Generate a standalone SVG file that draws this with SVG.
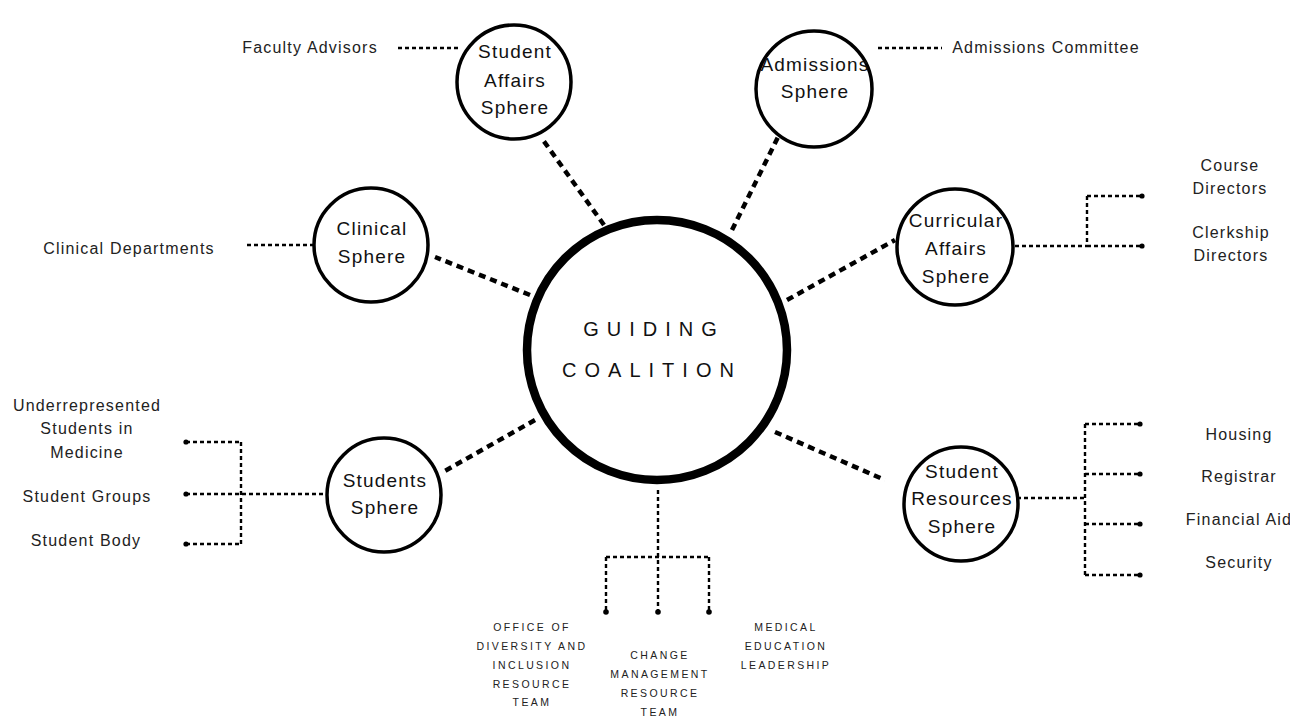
<svg xmlns="http://www.w3.org/2000/svg" width="1290" height="717" viewBox="0 0 1290 717">
  <style>
    .bg { fill: #ffffff; }
    .hub { fill: #ffffff; stroke: #000; stroke-width: 8.5; }
    .sphere { fill: #ffffff; stroke: #000; stroke-width: 3.5; }
    .spoke { fill: none; stroke: #000; stroke-width: 4.5; stroke-dasharray: 7 5; }
    .link { fill: none; stroke: #000; stroke-width: 2.4; stroke-dasharray: 4 3; }
    .dot { fill: #000; }
    .hubtext { font-family: "Liberation Sans", Arial, sans-serif; font-size: 20px; letter-spacing: 8px; fill: #111; text-anchor: middle; }
    .label { font-family: "Liberation Sans", Arial, sans-serif; font-size: 19px; letter-spacing: 1.2px; fill: #111; text-anchor: middle; }
    .leaf { font-family: "Liberation Sans", Arial, sans-serif; font-size: 16px; letter-spacing: 1.2px; fill: #222; text-anchor: middle; }
    .caps { font-family: "Liberation Sans", Arial, sans-serif; font-size: 10.5px; letter-spacing: 2.4px; fill: #222; text-anchor: middle; }
  </style>
  <rect class="bg" x="0" y="0" width="1290" height="717"/>

  <!-- connectors -->
  <g id="connectors">
    <!-- hub to spheres -->
    <line class="spoke" x1="604" y1="225" x2="543" y2="140"/>
    <line class="spoke" x1="732" y1="230" x2="780" y2="133"/>
    <line class="spoke" x1="530" y1="295" x2="435" y2="257"/>
    <line class="spoke" x1="787" y1="300" x2="895" y2="240"/>
    <line class="spoke" x1="535" y1="420" x2="443" y2="472"/>
    <line class="spoke" x1="775" y1="432" x2="885" y2="480"/>

    <!-- sphere to leaves -->
    <line class="link" x1="398" y1="48" x2="460" y2="48"/>
    <line class="link" x1="878" y1="48" x2="942" y2="48"/>
    <line class="link" x1="247" y1="245" x2="313" y2="245"/>

    <!-- curricular bracket -->
    <line class="link" x1="1015" y1="246" x2="1087" y2="246"/>
    <line class="link" x1="1087" y1="196" x2="1087" y2="246"/>
    <line class="link" x1="1087" y1="196" x2="1141" y2="196"/>
    <line class="link" x1="1087" y1="246" x2="1141" y2="246"/>
    <circle class="dot" cx="1142" cy="196" r="2.6"/>
    <circle class="dot" cx="1142" cy="246" r="2.6"/>

    <!-- students bracket -->
    <line class="link" x1="242" y1="494" x2="325" y2="494"/>
    <line class="link" x1="241" y1="442" x2="241" y2="544"/>
    <line class="link" x1="186" y1="442" x2="241" y2="442"/>
    <line class="link" x1="186" y1="494" x2="241" y2="494"/>
    <line class="link" x1="186" y1="544" x2="241" y2="544"/>
    <circle class="dot" cx="186" cy="442" r="2.6"/>
    <circle class="dot" cx="186" cy="494" r="2.6"/>
    <circle class="dot" cx="186" cy="544" r="2.6"/>

    <!-- student resources bracket -->
    <line class="link" x1="1017" y1="498" x2="1085" y2="498"/>
    <line class="link" x1="1085" y1="424" x2="1085" y2="575"/>
    <line class="link" x1="1085" y1="424" x2="1139" y2="424"/>
    <line class="link" x1="1085" y1="474" x2="1139" y2="474"/>
    <line class="link" x1="1085" y1="524" x2="1139" y2="524"/>
    <line class="link" x1="1085" y1="575" x2="1139" y2="575"/>
    <circle class="dot" cx="1140" cy="424" r="2.6"/>
    <circle class="dot" cx="1140" cy="474" r="2.6"/>
    <circle class="dot" cx="1140" cy="524" r="2.6"/>
    <circle class="dot" cx="1140" cy="575" r="2.6"/>

    <!-- hub down to resource teams -->
    <line class="link" x1="658" y1="490" x2="658" y2="611"/>
    <line class="link" x1="606" y1="557" x2="709" y2="557"/>
    <line class="link" x1="606" y1="557" x2="606" y2="611"/>
    <line class="link" x1="709" y1="557" x2="709" y2="611"/>
    <circle class="dot" cx="606" cy="612" r="2.8"/>
    <circle class="dot" cx="658" cy="612" r="2.8"/>
    <circle class="dot" cx="709" cy="612" r="2.8"/>
  </g>

  <!-- central hub -->
  <g id="guiding-coalition">
    <circle class="hub" cx="657" cy="350" r="130"/>
    <text class="hubtext" x="654" y="336">GUIDING</text>
    <text class="hubtext" x="652" y="377">COALITION</text>
  </g>

  <!-- spheres -->
  <g id="student-affairs">
    <circle class="sphere" cx="514" cy="82" r="57"/>
    <text class="label" x="515" y="58">Student</text>
    <text class="label" x="515" y="87">Affairs</text>
    <text class="label" x="515" y="114">Sphere</text>
  </g>
  <g id="admissions">
    <circle class="sphere" cx="814" cy="89" r="58"/>
    <text class="label" x="815" y="71">Admissions</text>
    <text class="label" x="815" y="98">Sphere</text>
  </g>
  <g id="clinical">
    <circle class="sphere" cx="371" cy="245" r="57"/>
    <text class="label" x="372" y="235">Clinical</text>
    <text class="label" x="372" y="263">Sphere</text>
  </g>
  <g id="curricular-affairs">
    <circle class="sphere" cx="955" cy="247" r="58"/>
    <text class="label" x="956" y="227">Curricular</text>
    <text class="label" x="956" y="255">Affairs</text>
    <text class="label" x="956" y="283">Sphere</text>
  </g>
  <g id="students">
    <circle class="sphere" cx="384" cy="495" r="57"/>
    <text class="label" x="385" y="487">Students</text>
    <text class="label" x="385" y="514">Sphere</text>
  </g>
  <g id="student-resources">
    <circle class="sphere" cx="961" cy="504" r="57"/>
    <text class="label" x="962" y="478">Student</text>
    <text class="label" x="962" y="505">Resources</text>
    <text class="label" x="962" y="533">Sphere</text>
  </g>

  <!-- leaf labels -->
  <g id="faculty-advisors"><text class="leaf" x="310" y="53">Faculty Advisors</text></g>
  <g id="admissions-committee"><text class="leaf" x="1046" y="53">Admissions Committee</text></g>
  <g id="clinical-departments"><text class="leaf" x="129" y="254">Clinical Departments</text></g>
  <g id="course-directors">
    <text class="leaf" x="1230" y="171">Course</text>
    <text class="leaf" x="1230" y="194">Directors</text>
  </g>
  <g id="clerkship-directors">
    <text class="leaf" x="1231" y="238">Clerkship</text>
    <text class="leaf" x="1231" y="261">Directors</text>
  </g>
  <g id="urm-students">
    <text class="leaf" x="87" y="411">Underrepresented</text>
    <text class="leaf" x="87" y="434">Students in</text>
    <text class="leaf" x="87" y="458">Medicine</text>
  </g>
  <g id="student-groups"><text class="leaf" x="87" y="502">Student Groups</text></g>
  <g id="student-body"><text class="leaf" x="86" y="546">Student Body</text></g>
  <g id="housing"><text class="leaf" x="1239" y="440">Housing</text></g>
  <g id="registrar"><text class="leaf" x="1239" y="482">Registrar</text></g>
  <g id="financial-aid"><text class="leaf" x="1239" y="525">Financial Aid</text></g>
  <g id="security"><text class="leaf" x="1239" y="568">Security</text></g>

  <!-- resource teams -->
  <g id="diversity-inclusion">
    <text class="caps" x="532" y="631">OFFICE OF</text>
    <text class="caps" x="532" y="650">DIVERSITY AND</text>
    <text class="caps" x="532" y="669">INCLUSION</text>
    <text class="caps" x="532" y="688">RESOURCE</text>
    <text class="caps" x="532" y="706">TEAM</text>
  </g>
  <g id="change-management">
    <text class="caps" x="660" y="659">CHANGE</text>
    <text class="caps" x="660" y="678">MANAGEMENT</text>
    <text class="caps" x="660" y="697">RESOURCE</text>
    <text class="caps" x="660" y="716">TEAM</text>
  </g>
  <g id="medical-education">
    <text class="caps" x="786" y="631">MEDICAL</text>
    <text class="caps" x="786" y="650">EDUCATION</text>
    <text class="caps" x="786" y="669">LEADERSHIP</text>
  </g>
</svg>
